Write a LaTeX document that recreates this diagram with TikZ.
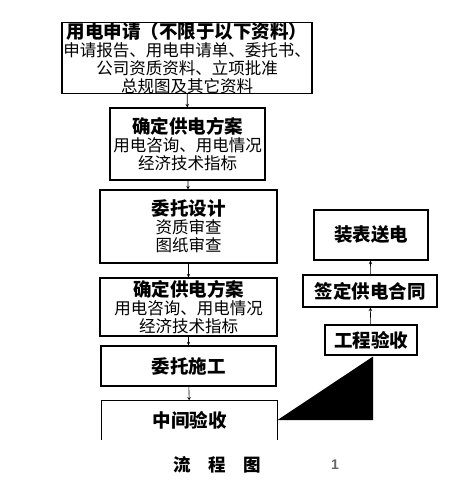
\documentclass[tikz,border=0pt]{standalone}
\usepackage{fontspec}
\setmainfont{Liberation Sans}
\newfontfamily\cjk{Noto Sans CJK SC}
\usepackage{tikz}
\usetikzlibrary{positioning, calc, arrows}
\tikzset{
  box/.style={draw, line width=1.1pt, inner sep=0pt, align=center,
    font=\cjk\fontsize{16.5}{18}\selectfont},
  flow/.style={->, >=stealth, line width=0.6pt},
}
\newcommand{\boxtitle}[1]{{\bfseries\fontsize{18.5}{18}\selectfont #1}}

\begin{document}
\begin{tikzpicture}[x=1pt,y=-1pt]

      \useasboundingbox (0,0) rectangle (471,494);

      % LEFT COLUMN

      \node[box, minimum width=250pt, minimum height=70pt] (apply) at (187,58)
        {\boxtitle{用电申请（不限于以下资料）}\\申请报告、用电申请单、委托书、\\公司资质资料、立项批准\\总规图及其它资料};
      \node[box, minimum width=155pt, minimum height=72pt] (plan) at (187.5,144)
        {\boxtitle{确定供电方案}\\用电咨询、用电情况\\经济技术指标};
      \node[box, minimum width=177pt, minimum height=73pt] (design) at (188.5,226.5)
        {\boxtitle{委托设计}\\资质审查\\图纸审查};
      \node[box, minimum width=177pt, minimum height=58pt] (plantwo) at (188.5,307)
        {\boxtitle{确定供电方案}\\用电咨询、用电情况\\经济技术指标};
      \node[box, minimum width=175pt, minimum height=40pt] (build) at (188.5,366)
        {\boxtitle{委托施工}};
      \node[box, draw=none, minimum width=175pt, minimum height=38pt] (midcheck) at (189.5,420)
        {\boxtitle{中间验收}};
      \draw[line width=1.1pt] (midcheck.south west) -- (midcheck.north west)
        -- (midcheck.north east) -- (midcheck.south east);

      % RIGHT COLUMN

      \node[box, minimum width=114pt, minimum height=50pt] (power) at (371,235)
        {\boxtitle{装表送电}};
      \node[box, minimum width=134pt, minimum height=32pt] (contract) at (370,291)
        {\boxtitle{签定供电合同}};
      \node[box, minimum width=92pt, minimum height=30pt] (accept) at (371,340)
        {\boxtitle{工程验收}};

      % ARCS

      \draw[flow] (apply) -- (plan);
      \draw[flow] (plan) -- (design);
      \draw[flow] (design) -- (plantwo);
      \draw[flow] (plantwo) -- (build);
      \draw[flow] (build) -- (midcheck);
      \draw[flow] (accept) -- (contract);
      \draw[flow] (contract) -- (power);

      \coordinate (tip) at ($(accept.south)+(2,1)$);
      \fill (midcheck.east) -- (tip) -- (tip |- midcheck.east) -- cycle;

      % CAPTION

      \node[font=\cjk\bfseries\fontsize{17.5}{17.5}\selectfont] (caption) at (217,465)
        {流\hspace{1em}程\hspace{1em}图};
      \node[font=\bfseries\fontsize{14}{14}\selectfont, text=gray!80!black] (pagenum) at (335,465) {1};

    \end{tikzpicture}
\end{document}
